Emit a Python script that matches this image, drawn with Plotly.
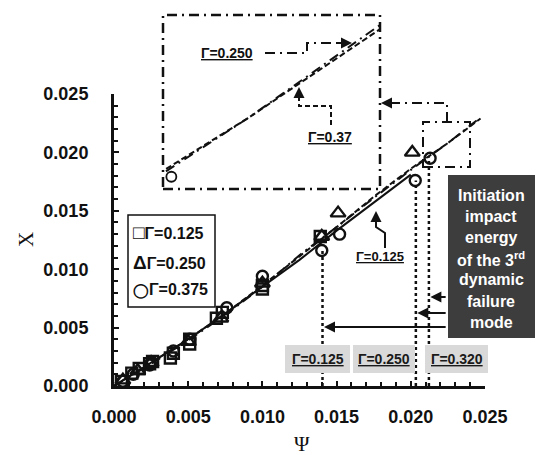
import plotly.graph_objects as go

# ---------------- data ----------------
sq_x = [0.0005, 0.0012, 0.0017, 0.0024, 0.0026, 0.0038, 0.0040, 0.0051, 0.0051, 0.0069, 0.0073, 0.0100, 0.0100, 0.0139]
sq_y = [0.0004, 0.0011, 0.0015, 0.0019, 0.0021, 0.0024, 0.0028, 0.0036, 0.0040, 0.0058, 0.0063, 0.0083, 0.0086, 0.0128]
tri_x = [0.0006, 0.0016, 0.0025, 0.0050, 0.0072, 0.0100, 0.0140, 0.0151, 0.0201]
tri_y = [0.0005, 0.0013, 0.0020, 0.0038, 0.0058, 0.0088, 0.0128, 0.0148, 0.0200]
cir_x = [0.0006, 0.0013, 0.0024, 0.0040, 0.0051, 0.0076, 0.0100, 0.0140, 0.0152, 0.0203, 0.0213]
cir_y = [0.0004, 0.0010, 0.0018, 0.0030, 0.0040, 0.0067, 0.0094, 0.0116, 0.0130, 0.0176, 0.0195]

fit_x = [0, 0.0025, 0.005, 0.0075, 0.010, 0.0125, 0.015, 0.0175, 0.020, 0.0225, 0.0247]
fit_125 = [0, 0.0020, 0.0040, 0.0062, 0.0085, 0.0108, 0.0133, 0.0157, 0.0181]
fit_250 = [0, 0.0019, 0.0039, 0.0061, 0.0085, 0.0112, 0.0136, 0.0161, 0.0185, 0.0208, 0.0230]
fit_375 = [0, 0.0020, 0.0040, 0.0062, 0.0086, 0.0111, 0.0136, 0.0162, 0.0186, 0.0208, 0.0229]

crit_x = [0.01405, 0.02034, 0.02122]      # Γ=0.125, 0.250, 0.320
crit_top = [0.0116, 0.0176, 0.0195]
crit_arrow_y = [0.00505, 0.00625, 0.00762]
crit_labels = ["Γ=0.125", "Γ=0.250", "Γ=0.320"]

legend_labels = ["Γ=0.125", "Γ=0.250", "Γ=0.375"]
legend_glyphs = ["<span style='font-size:19px'>□</span>",
                 "<span style='font-size:19px'>Δ</span>",
                 "<span style='font-size:14px'>◯</span>"]

tick_vals = [0, 0.005, 0.010, 0.015, 0.020, 0.025]
tick_text = ["0.000", "0.005", "0.010", "0.015", "0.020", "0.025"]

info_lines = ["Initiation", "impact", "energy", "of the 3<sup>rd</sup>", "dynamic", "failure", "mode"]

# ---------------- geometry helpers (page pixels -> paper) ----------------
W, H = 536, 455
def fx(p): return p / W
def fy(p): return 1 - p / H

BLACK = "#111111"
SANS = "Liberation Sans, Arial, sans-serif"
SERIF = "Liberation Serif, Times New Roman, serif"
DASHDOT = "10px,5px,2px,5px"

fig = go.Figure()

# fit lines (main)
fig.add_trace(go.Scatter(x=fit_x[:len(fit_125)], y=fit_125, mode="lines",
                         line=dict(color=BLACK, width=2), showlegend=False))
fig.add_trace(go.Scatter(x=fit_x, y=fit_250, mode="lines",
                         line=dict(color=BLACK, width=2, dash=DASHDOT), showlegend=False))
fig.add_trace(go.Scatter(x=fit_x, y=fit_375, mode="lines",
                         line=dict(color=BLACK, width=2, dash="6px,3px"), showlegend=False))

# markers
fig.add_trace(go.Scatter(x=sq_x, y=sq_y, mode="markers", cliponaxis=False,
                         marker=dict(symbol="square-open", size=11, color=BLACK, line=dict(width=2.4)),
                         showlegend=False))
fig.add_trace(go.Scatter(x=tri_x, y=tri_y, mode="markers", cliponaxis=False,
                         marker=dict(symbol="triangle-up-open", size=13, color=BLACK, line=dict(width=2.4)),
                         showlegend=False))
fig.add_trace(go.Scatter(x=cir_x, y=cir_y, mode="markers", cliponaxis=False,
                         marker=dict(symbol="circle-open", size=11, color=BLACK, line=dict(width=2.4)),
                         showlegend=False))

# vertical dotted critical lines
vx, vy = [], []
for cx, ct in zip(crit_x, crit_top):
    vx += [cx, cx, None]
    vy += [0, ct, None]
fig.add_trace(go.Scatter(x=vx, y=vy, mode="lines", line=dict(color=BLACK, width=2.5, dash="dot"),
                         showlegend=False))

# inset (zoomed view)
fig.add_trace(go.Scatter(x=fit_x, y=fit_250, mode="lines", xaxis="x2", yaxis="y2",
                         line=dict(color=BLACK, width=2, dash=DASHDOT), showlegend=False))
fig.add_trace(go.Scatter(x=fit_x, y=fit_375, mode="lines", xaxis="x2", yaxis="y2",
                         line=dict(color=BLACK, width=2, dash="6px,3px"), showlegend=False))
fig.add_trace(go.Scatter(x=cir_x, y=cir_y, mode="markers", xaxis="x2", yaxis="y2",
                         marker=dict(symbol="circle-open", size=10, color=BLACK, line=dict(width=1.8)),
                         showlegend=False))

shapes = []
annotations = []

def rect(x0, y0, x1, y1, **kw):
    shapes.append(dict(type="rect", xref="paper", yref="paper",
                       x0=fx(x0), x1=fx(x1), y0=fy(y1), y1=fy(y0), **kw))

def path(points, **kw):
    d = "M " + " L ".join(f"{fx(a):.5f},{fy(b):.5f}" for a, b in points)
    shapes.append(dict(type="path", xref="paper", yref="paper", path=d, **kw))

def arrow(x0, y0, x1, y1, w=2):
    annotations.append(dict(xref="paper", yref="paper", axref="pixel", ayref="pixel",
                            x=fx(x1), y=fy(y1), ax=x0 - x1, ay=y0 - y1, text="",
                            showarrow=True, arrowhead=2, arrowsize=1.1, arrowwidth=w,
                            arrowcolor=BLACK))

def text(x, y, s, size=14, family=SANS, color=BLACK, weight="bold", under=False,
         xanchor="center", **kw):
    f = dict(size=size, family=family, color=color, weight=weight)
    if under:
        f["lineposition"] = "under"
    annotations.append(dict(xref="paper", yref="paper", x=fx(x), y=fy(y), text=s,
                            showarrow=False, font=f, xanchor=xanchor, yanchor="middle", **kw))

# inset frame and zoom indicator
rect(163, 15, 380, 189, line=dict(color=BLACK, width=2.5, dash=DASHDOT))
rect(423, 122, 470, 167, line=dict(color=BLACK, width=2, dash=DASHDOT))
path([(447, 122), (447, 103), (390, 103)], line=dict(color=BLACK, width=2, dash=DASHDOT))
arrow(395, 103, 381, 103)

# inset labels
text(227, 53, "Γ=0.250", size=14, under=True)
path([(265, 53), (307, 53), (307, 43), (340, 43)], line=dict(color=BLACK, width=2, dash=DASHDOT))
arrow(335, 43, 352, 43)
text(330, 137, "Γ=0.37", size=14, under=True)
path([(331, 125), (331, 106), (299, 106), (299, 96)], line=dict(color=BLACK, width=2, dash="5px,3px"))
arrow(299, 97, 299, 87)

# Γ=0.125 callout in main plot
text(380, 256, "Γ=0.125", size=13, under=True)
path([(385, 248), (385, 233), (376, 227), (376, 220)], line=dict(color=BLACK, width=2))
arrow(376, 222, 376, 211)

# legend box
rect(128, 215, 215, 307, line=dict(color=BLACK, width=1.5))
for yy, g, lab in zip([233, 262, 290], legend_glyphs, legend_labels):
    text(131, yy, g + lab, size=16, xanchor="left")

# dark info box
rect(448, 175, 535, 338, fillcolor="#3d3d3d", line=dict(width=0), layer="above")
for i, ln in enumerate(info_lines):
    text(491, 195 + i * 21.2, ln, size=16, color="white")

# arrows from dark box to critical lines
for cx, ay in zip(crit_x, crit_arrow_y):
    annotations.append(dict(xref="x", yref="y", axref="x", ayref="y",
                            x=cx + 0.0001, y=ay, ax=0.02245, ay=ay, text="",
                            showarrow=True, arrowhead=2, arrowsize=1.1, arrowwidth=2,
                            arrowcolor=BLACK))

# gray label boxes
for (x0, x1), lab in zip([(285, 350), (353, 415), (425, 488)], crit_labels):
    rect(x0, 345, x1, 373, fillcolor="#d9d9d9", line=dict(width=0))
    text((x0 + x1) / 2, 359, lab, size=14, under=True, color="#1a1a1a")

# axis titles
text(302, 444, "Ψ", size=21, family=SERIF, weight="normal")
annotations.append(dict(xref="paper", yref="paper", x=fx(26), y=fy(240), text="Χ",
                        showarrow=False, textangle=-90, xanchor="center", yanchor="middle",
                        font=dict(size=21, family=SERIF, color=BLACK)))

axis_common = dict(range=[0, 0.025], showline=True, linewidth=3, linecolor=BLACK,
                   ticks="inside", ticklen=5, tickwidth=2, tickcolor=BLACK,
                   tickvals=tick_vals, ticktext=tick_text, automargin=False,
                   tickfont=dict(size=18, family=SANS, color=BLACK, weight="bold"),
                   minor=dict(dtick=0.001, tick0=0, ticks="inside", ticklen=4, tickwidth=1.5,
                              tickcolor=BLACK, showgrid=False),
                   showgrid=False, zeroline=False)

fig.update_layout(
    template="none",
    width=W, height=H,
    margin=dict(l=0, r=0, t=0, b=0, pad=0, autoexpand=False),
    paper_bgcolor="white", plot_bgcolor="white",
    showlegend=False,
    xaxis=dict(domain=[fx(114), fx(485)], anchor="y", ticklabelstandoff=12, **axis_common),
    yaxis=dict(domain=[fy(386), fy(94)], anchor="x", ticklabelstandoff=19, **axis_common),
    xaxis2=dict(domain=[fx(163), fx(380)], anchor="y2", range=[0.02117, 0.02455],
                visible=False, automargin=False),
    yaxis2=dict(domain=[fy(189), fy(15)], anchor="x2", range=[0.01923, 0.02307],
                visible=False, automargin=False),
    shapes=shapes,
    annotations=annotations,
)

fig.write_html("out.html", config={"displayModeBar": False},
               post_script="document.body.style.margin='0';document.body.style.overflow='hidden';")
